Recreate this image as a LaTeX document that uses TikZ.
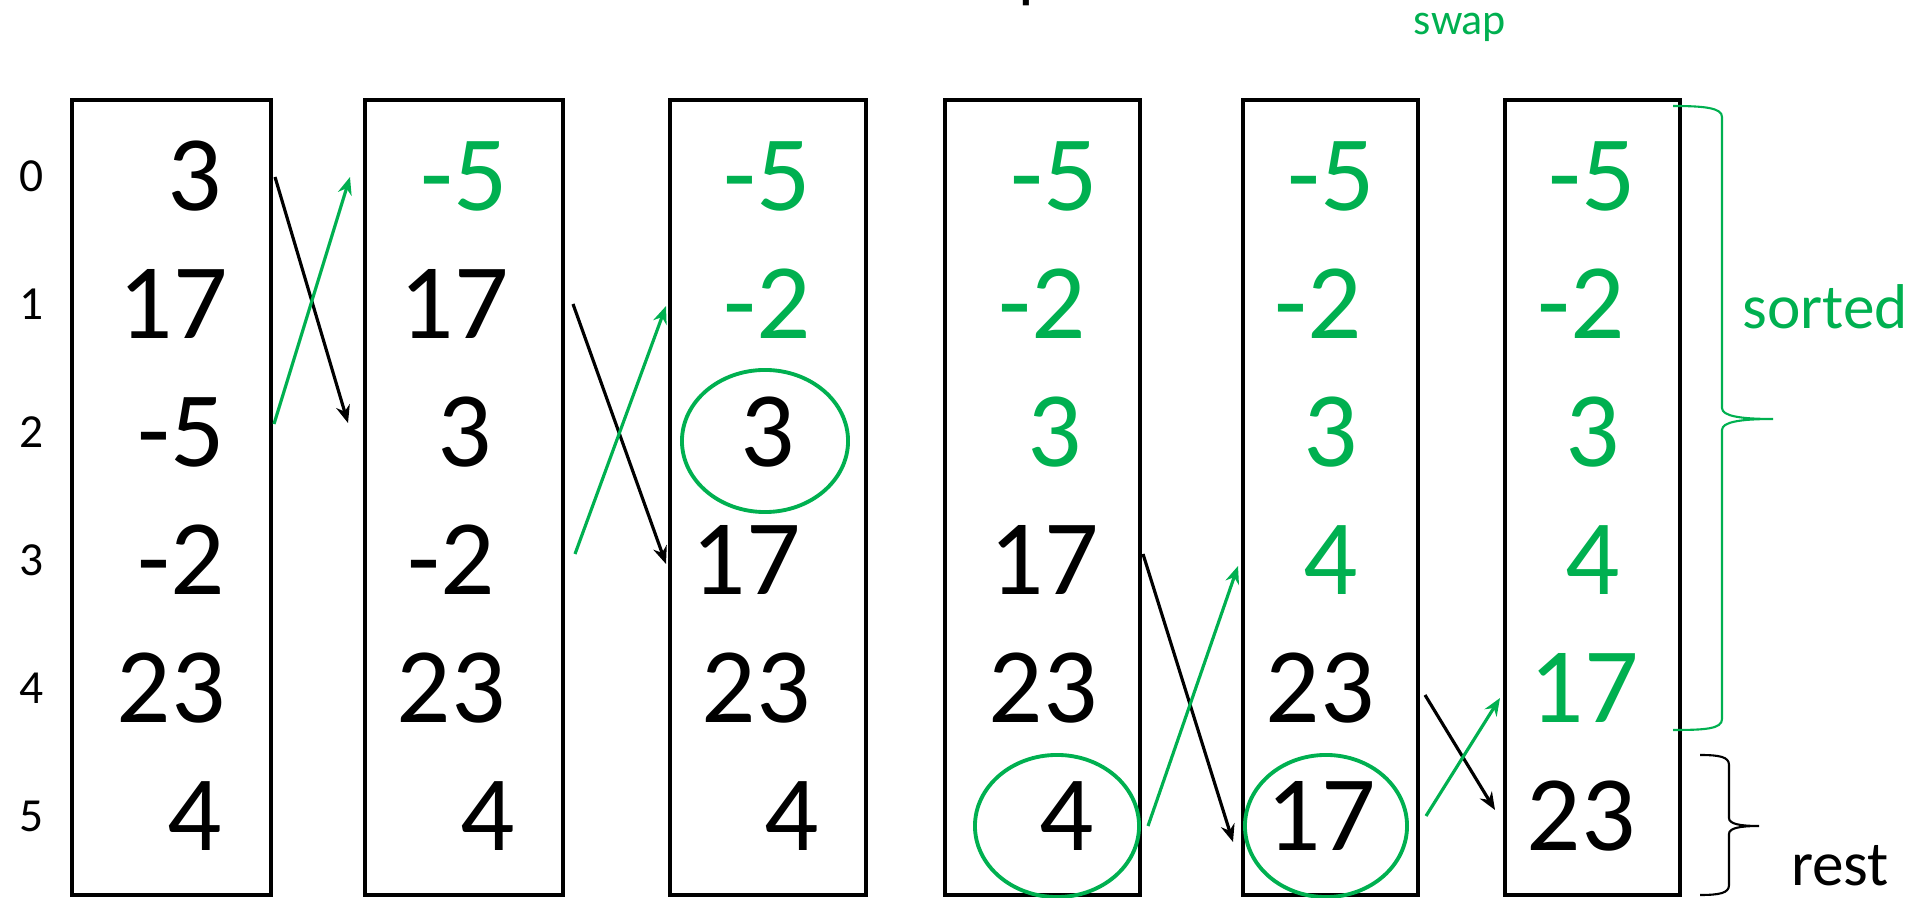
\documentclass[tikz,border=0pt]{standalone}
\usepackage{fontspec}
\setmainfont{Carlito}
\usetikzlibrary{arrows.meta,calc}
\definecolor{sortgreen}{RGB}{0,176,80}

\begin{document}
\begin{tikzpicture}[
    x=0.01cm, y=-0.01cm,
    pass/.style={draw, line width=1.2pt},
    num/.style={font=\fontsize{30.5}{36}\selectfont, inner sep=0pt},
    idx/.style={font=\fontsize{13.5}{16}\selectfont, inner sep=0pt},
    pick/.style={draw=sortgreen, line width=1.1pt},
    arr/.style={-{Stealth[length=5pt,width=4pt]}, line width=0.9pt},
    brc/.style={line width=0.6pt},
    lbl/.style={font=\fontsize{18}{21}\selectfont, inner sep=0pt, anchor=base}
]
\useasboundingbox (0,0) rectangle (1915,898);

% cut-off title
\node[font=\fontsize{20}{24}\selectfont, inner sep=0pt, anchor=base west] (title) at (1018,-5) {p};
\node[lbl, font=\fontsize{12.5}{15}\selectfont, text=sortgreen] (swap) at (1460,35) {swap};

% index column
\foreach \i in {0,...,5}
  \node[idx] (i\i) at (32,176+128*\i) {\i};

% one box per pass
\foreach \l/\r in {72/271, 365/563, 670/866, 945/1140, 1243/1418, 1505/1680}
  \draw[pass] (\l,100) rectangle (\r,895);

% array contents
\foreach \v/\x/\t [count=\r from 0] in {3/195/black, 17/173/black, -5/181/black, -2/181/black, 23/171/black, 4/195/black}
  \node[num, text=\t] (p1-\r) at (\x,176+128*\r) {\v};
\foreach \v/\x/\t [count=\r from 0] in {-5/464/sortgreen, 17/454/black, 3/465/black, -2/451/black, 23/451/black, 4/488/black}
  \node[num, text=\t] (p2-\r) at (\x,176+128*\r) {\v};
\foreach \v/\x/\t [count=\r from 0] in {-5/767/sortgreen, -2/767/sortgreen, 3/768/black, 17/746/black, 23/756/black, 4/792/black}
  \node[num, text=\t] (p3-\r) at (\x,176+128*\r) {\v};
\foreach \v/\x/\t [count=\r from 0] in {-5/1054/sortgreen, -2/1042/sortgreen, 3/1055/sortgreen, 17/1044/black, 23/1043/black, 4/1067/black}
  \node[num, text=\t] (p4-\r) at (\x,176+128*\r) {\v};
\foreach \v/\x/\t [count=\r from 0] in {-5/1331/sortgreen, -2/1318/sortgreen, 3/1331/sortgreen, 4/1331/sortgreen, 23/1320/black, 17/1321/black}
  \node[num, text=\t] (p5-\r) at (\x,176+128*\r) {\v};
\foreach \v/\x/\t [count=\r from 0] in {-5/1592/sortgreen, -2/1581/sortgreen, 3/1593/sortgreen, 4/1593/sortgreen, 17/1584/sortgreen, 23/1581/black}
  \node[num, text=\t] (p6-\r) at (\x,176+128*\r) {\v};

% minimum found in each pass
\draw[pick] (765,441) ellipse [x radius=0.83cm, y radius=0.71cm];
\draw[pick] (1057,826) ellipse [x radius=0.82cm, y radius=0.71cm];
\draw[pick] (1326,826) ellipse [x radius=0.81cm, y radius=0.71cm];

% swaps
\coordinate (s1a) at (275,177);  \coordinate (s1b) at (348,423);
\coordinate (s1c) at (274,424);  \coordinate (s1d) at (350,177);
\coordinate (s2a) at (573,304);  \coordinate (s2b) at (666,564);
\coordinate (s2c) at (575,554);  \coordinate (s2d) at (666,306);
\coordinate (s3a) at (1143,554); \coordinate (s3b) at (1233,842);
\coordinate (s3c) at (1148,826); \coordinate (s3d) at (1238,566);
\coordinate (s4a) at (1425,695); \coordinate (s4b) at (1495,810);
\coordinate (s4c) at (1426,816); \coordinate (s4d) at (1500,698);
\foreach \k in {1,...,4} {
  \draw[arr] (s\k a) -- (s\k b);
  \draw[arr, sortgreen] (s\k c) -- (s\k d);
}

% braces
\draw[brc, sortgreen] (1673,106) .. controls (1705,106) and (1722,108) .. (1722,117) -- (1722,408)
  .. controls (1722,416) and (1740,419) .. (1773,419) .. controls (1740,419) and (1722,422) .. (1722,430)
  -- (1722,719) .. controls (1722,729) and (1705,730) .. (1673,730);
\draw[brc] (1700,755) .. controls (1720,755) and (1729,757) .. (1729,765) -- (1729,818)
  .. controls (1729,824) and (1740,826) .. (1759,826) .. controls (1740,826) and (1729,828) .. (1729,834)
  -- (1729,885) .. controls (1729,893) and (1720,895) .. (1700,895);
\node[lbl, text=sortgreen] (sorted) at (1825,329) {sorted};
\node[lbl] (rest) at (1840,886) {rest};
\end{tikzpicture}
\end{document}
